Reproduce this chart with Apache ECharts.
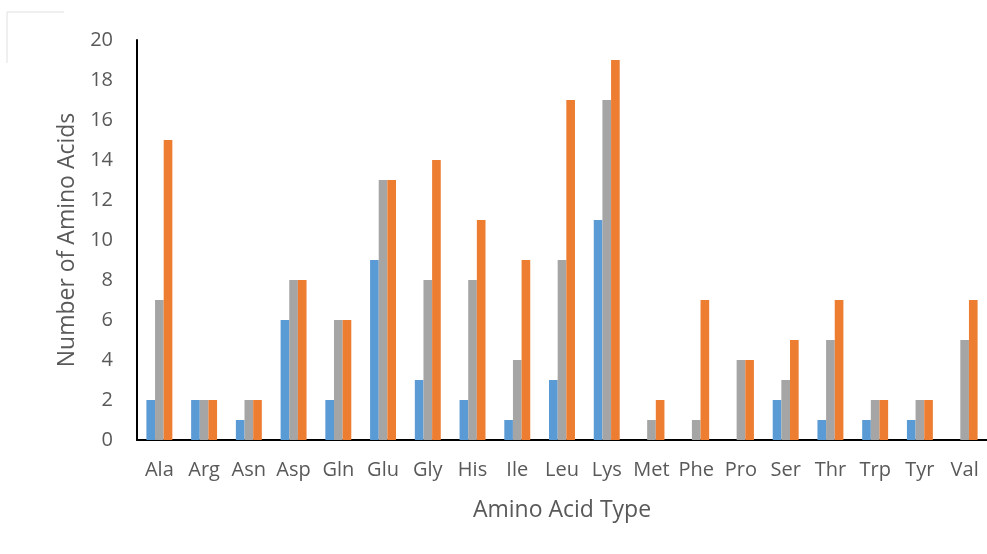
<!DOCTYPE html>
<html><head><meta charset="utf-8">
<script src="https://cdn.jsdelivr.net/npm/echarts@6/dist/echarts.min.js"></script>
<style>html,body{margin:0;padding:0;background:#fff}#c{width:987px;height:554px}</style>
</head><body><div id="c"></div>
<script>
const categories = ['Ala','Arg','Asn','Asp','Gln','Glu','Gly','His','Ile','Leu','Lys','Met','Phe','Pro','Ser','Thr','Trp','Tyr','Val'];
const seriesBlue   = [2,2,1,6,2,9,3,2,1,3,11,0,0,0,2,1,1,1,0];
const seriesGray   = [7,2,2,8,6,13,8,8,4,9,17,1,1,4,3,5,2,2,5];
const seriesOrange = [15,2,2,8,6,13,14,11,9,17,19,2,7,4,5,7,2,2,7];
const yTicks = {min:0, max:20, interval:2};

const chart = echarts.init(document.getElementById('c'));
const font = '"Open Sans", "Liberation Sans", sans-serif';
const mk = (data, color) => ({
  type:'bar', data, barGap:'0%', barCategoryGap:'42%',
  itemStyle:{color},
  silent:true
});
chart.setOption({
  animation:false,
  grid:{left:137, right:0, top:40, bottom:114, containLabel:false},
  graphic:[{type:'polyline', shape:{points:[[7,63],[7,12],[64,12]]}, style:{stroke:'#e0e0e0', lineWidth:1, fill:null}}],
  xAxis:{
    type:'category', data:categories,
    axisLine:{lineStyle:{color:'#000', width:2}},
    axisTick:{show:false},
    axisLabel:{color:'#595959', fontSize:20, fontFamily:font, margin:20, interval:0, hideOverlap:false},
    name:'Amino Acid Type', nameLocation:'middle', nameGap:59,
    nameTextStyle:{color:'#595959', fontSize:23, fontFamily:font}
  },
  yAxis:{
    type:'value', min:yTicks.min, max:yTicks.max, interval:yTicks.interval,
    axisLine:{show:true, lineStyle:{color:'#000', width:2}},
    axisTick:{show:false},
    splitLine:{show:false},
    axisLabel:{color:'#595959', fontSize:20, fontFamily:font, margin:24},
    name:'Number of Amino Acids', nameLocation:'middle', nameGap:57, nameRotate:90,
    nameTextStyle:{color:'#595959', fontSize:23, fontFamily:font}
  },
  series:[mk(seriesBlue,'#5B9BD5'), mk(seriesGray,'#A5A5A5'), mk(seriesOrange,'#ED7D31')]
});
</script></body></html>
